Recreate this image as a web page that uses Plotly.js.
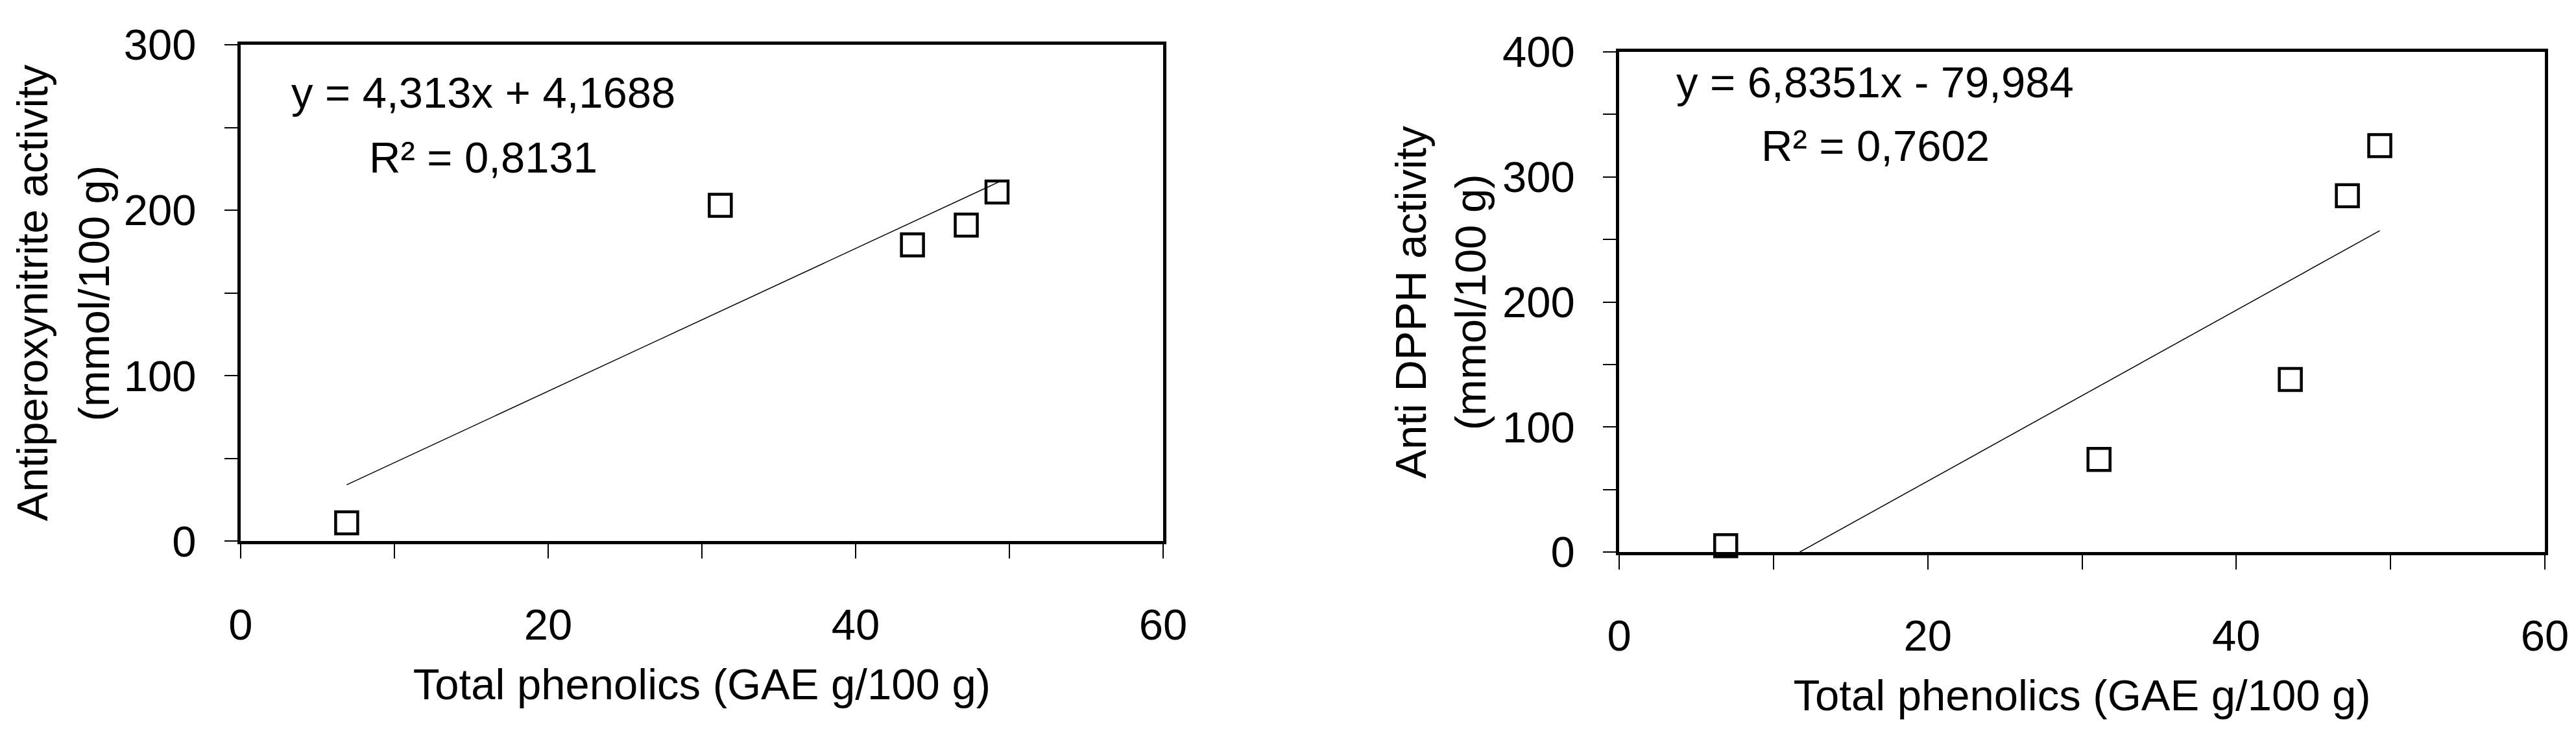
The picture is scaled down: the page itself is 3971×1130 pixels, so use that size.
<!DOCTYPE html>
<html>
<head>
<meta charset="utf-8">
<script src="https://cdn.plot.ly/plotly-3.0.1.min.js"></script>
<style>
  html, body { margin: 0; padding: 0; background: #fff; }
  #chart { width: 3971px; height: 1130px; }
</style>
</head>
<body>
<div id="chart"></div>
<script>
// values
var phenolicsA = [6.9, 31.2, 43.7, 47.2, 49.2];
var peroxynitrite = [11, 203, 179, 191, 211];
var phenolicsB = [6.9, 31.1, 43.5, 47.2, 49.3];
var dpph = [5, 74, 138, 285, 325];

// trendline ends as drawn
var fitAx = [6.9, 49.3];
var fitAy = [34, 217];
var fitBx = [11.7, 49.3];
var fitBy = [0, 257];

var eqA = ['y = 4,313x + 4,1688', 'R² = 0,8131'];
var eqB = ['y = 6,8351x - 79,984', 'R² = 0,7602'];

var xTitle = 'Total phenolics (GAE g/100 g)';
var yTitleA = ['Antiperoxynitrite activity', '(mmol/100 g)'];
var yTitleB = ['Anti DPPH activity', '(mmol/100 g)'];

var FONT = 'Liberation Sans, Arial, sans-serif';
var FS = 67;

var pts = function (x, y, xa, ya) {
  return {
    x: x, y: y, xaxis: xa, yaxis: ya,
    type: 'scatter', mode: 'markers', cliponaxis: false,
    marker: { symbol: 'square-open', size: 34, color: 'black', line: { width: 4.5, color: 'black' } },
    showlegend: false, hoverinfo: 'skip'
  };
};
var fit = function (x, y, xa, ya) {
  return {
    x: x, y: y, xaxis: xa, yaxis: ya,
    type: 'scatter', mode: 'lines', cliponaxis: false,
    line: { color: 'black', width: 1.5 },
    showlegend: false, hoverinfo: 'skip'
  };
};

var data_plot = [
  fit(fitAx, fitAy, 'x', 'y'),
  pts(phenolicsA, peroxynitrite, 'x', 'y'),
  fit(fitBx, fitBy, 'x2', 'y2'),
  pts(phenolicsB, dpph, 'x2', 'y2')
];

var xaxisBase = function (dom, anchor) {
  return {
    domain: dom, anchor: anchor, range: [0, 60],
    tickvals: [0, 20, 40, 60],
    ticks: 'outside', ticklen: 22, tickwidth: 2, tickcolor: 'black',
    minor: { dtick: 10, ticks: 'outside', ticklen: 22, tickwidth: 2, tickcolor: 'black' },
    ticklabelstandoff: 45,
    showline: true, mirror: true, linewidth: 5, linecolor: 'black',
    showgrid: false, zeroline: false,
    tickfont: { family: FONT, size: FS, color: 'black' },
    title: { text: xTitle, standoff: 33, font: { family: FONT, size: FS, color: 'black' } }
  };
};
var yaxisBase = function (dom, anchor, top, step) {
  var vals = [];
  for (var v = 0; v <= top; v += step) vals.push(v);
  return {
    domain: dom, anchor: anchor, range: [0, top],
    tickvals: vals,
    ticks: 'outside', ticklen: 20, tickwidth: 2, tickcolor: 'black',
    minor: { dtick: step / 2, ticks: 'outside', ticklen: 20, tickwidth: 2, tickcolor: 'black' },
    ticklabelstandoff: 30,
    showline: true, mirror: true, linewidth: 5, linecolor: 'black',
    showgrid: false, zeroline: false,
    tickfont: { family: FONT, size: FS, color: 'black' }
  };
};

var note = function (xr, yr, x, y, txt, angle) {
  return {
    xref: xr, yref: yr, x: x, y: y, text: txt, showarrow: false,
    xanchor: 'center', yanchor: 'middle', textangle: angle || 0,
    font: { family: FONT, size: FS, color: 'black' }
  };
};

var layout = {
  width: 3971, height: 1130,
  margin: { l: 0, r: 0, t: 0, b: 0 },
  paper_bgcolor: 'white', plot_bgcolor: 'white',
  xaxis: xaxisBase([0.0934, 0.4515], 'y'),
  yaxis: yaxisBase([0.2619, 0.9389], 'x', 300, 100),
  xaxis2: xaxisBase([0.6286, 0.9879], 'y2'),
  yaxis2: yaxisBase([0.2469, 0.9292], 'x2', 400, 100),
  annotations: [
    note('x', 'y', 15.8, 271, eqA[0]),
    note('x', 'y', 15.8, 232, eqA[1]),
    note('x2', 'y2', 16.6, 376, eqB[0]),
    note('x2', 'y2', 16.6, 325, eqB[1]),
    note('paper', 'paper', 0.0125, 0.6004, yTitleA[0], -90),
    note('paper', 'paper', 0.0365, 0.6004, yTitleA[1], -90),
    note('paper', 'paper', 0.5475, 0.588, yTitleB[0], -90),
    note('paper', 'paper', 0.5708, 0.588, yTitleB[1], -90)
  ]
};

Plotly.newPlot('chart', data_plot, layout, { staticPlot: true });
</script>
</body>
</html>
